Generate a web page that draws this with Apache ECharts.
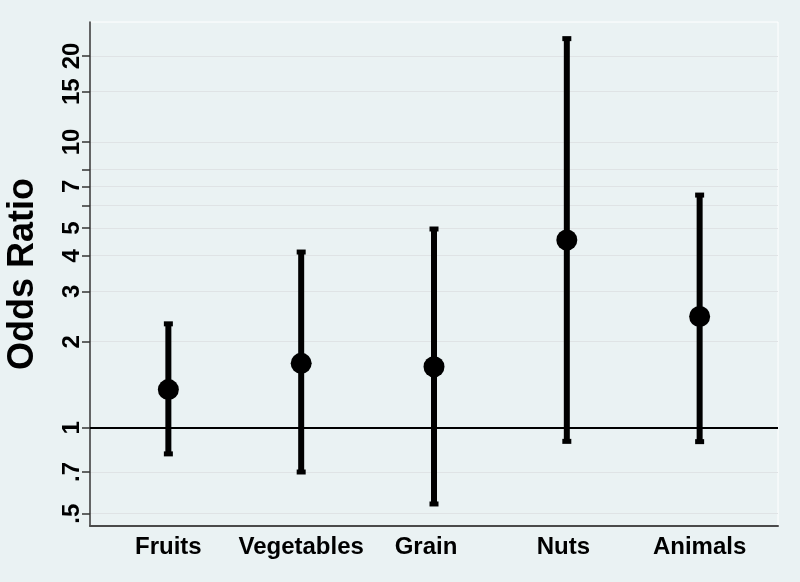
<!DOCTYPE html>
<html>
<head>
<meta charset="utf-8">
<script src="https://cdn.jsdelivr.net/npm/echarts@6/dist/echarts.min.js"></script>
<style>
html,body{margin:0;padding:0;background:#eaf2f3;}
#chart{width:800px;height:582px;}
</style>
</head>
<body>
<div id="chart"></div>
<script>
const categories = ['Fruits', 'Vegetables', 'Grain', 'Nuts', 'Animals'];
const catPositions = [1, 2, 3, 4, 5];
const oddsRatio = [1.36, 1.68, 1.635, 4.54, 2.45];
const lowerCI = [0.81, 0.70, 0.541, 0.896, 0.894];
const upperCI = [2.31, 4.12, 4.96, 23.0, 6.52];
const yTickValues = [0.5, 0.7, 1, 2, 3, 4, 5, 6, 7, 8, 10, 15, 20];
const yLabelValues = [0.5, 0.7, 1, 2, 3, 4, 5, 7, 10, 15, 20];
const refValue = 1;

const chart = echarts.init(document.getElementById('chart'));

const pointData = catPositions.map((x, i) => [x, oddsRatio[i]]);
const barData = catPositions.map((x, i) => [x, lowerCI[i], upperCI[i]]);

function fmtY(v) {
  const r = Math.round(v * 10) / 10;
  return r < 1 ? String(r).replace(/^0/, '') : String(r);
}

const labelFont = { fontFamily: 'Liberation Sans, Arial, sans-serif', fontWeight: 'bold', fontSize: 24, color: '#000' };

const option = {
  backgroundColor: '#eaf2f3',
  animation: false,
  grid: {
    left: 90, right: 22, top: 22, bottom: 56,
    containLabel: false, outerBoundsMode: 'none',
    show: true, backgroundColor: '#eaf2f3', borderColor: '#ffffff', borderWidth: 1
  },
  xAxis: {
    type: 'value',
    min: 0.41, max: 5.59,
    axisLine: { show: true, onZero: false, lineStyle: { color: '#4a4a4a', width: 2 } },
    axisTick: { show: false },
    splitLine: { show: false },
    axisLabel: Object.assign({
      customValues: catPositions,
      formatter: v => {
        const i = Math.round(v) - 1;
        return '{c' + i + '|' + (categories[i] || '') + '}';
      },
      margin: 9,
      rich: {
        c0: Object.assign({}, labelFont),
        c1: Object.assign({}, labelFont),
        c2: Object.assign({ padding: [0, 16, 0, 0] }, labelFont),
        c3: Object.assign({ padding: [0, 7, 0, 0] }, labelFont),
        c4: Object.assign({}, labelFont)
      }
    }, labelFont)
  },
  yAxis: {
    type: 'log', logBase: 10,
    min: 0.453, max: 26.3,
    name: 'Odds Ratio', nameLocation: 'middle', nameGap: 49,
    nameTextStyle: { fontFamily: 'Liberation Sans, Arial, sans-serif', fontWeight: 'bold', fontSize: 36, color: '#000' },
    axisLine: { show: true, lineStyle: { color: '#333', width: 1.5 } },
    axisTick: { show: true, length: 8, customValues: yTickValues, lineStyle: { color: '#333', width: 1.5 } },
    splitLine: { show: true, lineStyle: { color: '#dfe3e5', width: 1 } },
    axisLabel: Object.assign({
      customValues: yLabelValues,
      formatter: fmtY,
      rotate: 90, margin: 6
    }, labelFont)
  },
  series: [
    {
      type: 'custom',
      data: barData,
      z: 3,
      renderItem: function (params, api) {
        const x = api.value(0);
        const lo = api.coord([x, api.value(1)]);
        const hi = api.coord([x, api.value(2)]);
        const capW = 9, capH = 5;
        return {
          type: 'group',
          children: [
            { type: 'line', shape: { x1: lo[0], y1: lo[1], x2: hi[0], y2: hi[1] }, style: { stroke: '#000', lineWidth: 6 } },
            { type: 'rect', shape: { x: hi[0] - capW / 2, y: hi[1] - capH / 2, width: capW, height: capH }, style: { fill: '#000' } },
            { type: 'rect', shape: { x: lo[0] - capW / 2, y: lo[1] - capH / 2, width: capW, height: capH }, style: { fill: '#000' } }
          ]
        };
      }
    },
    {
      type: 'scatter',
      data: pointData,
      symbol: 'circle', symbolSize: 21,
      itemStyle: { color: '#000', opacity: 1 },
      z: 4,
      markLine: {
        silent: true, symbol: 'none', label: { show: false },
        lineStyle: { color: '#000', width: 2, type: 'solid' },
        data: [{ yAxis: refValue }]
      }
    }
  ]
};
chart.setOption(option);
</script>
</body>
</html>
